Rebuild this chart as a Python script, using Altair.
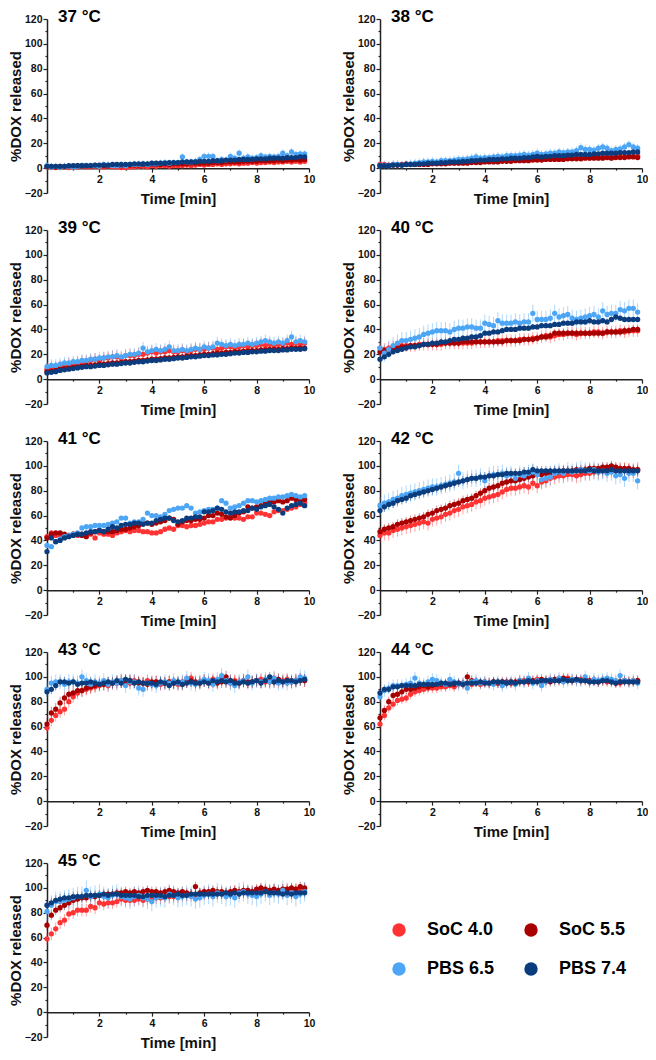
import pandas as pd
import altair as alt


# ── Data (one reading every 10 s) ─────────────────────────────────────────────

TIME_MIN = [k / 6 for k in range(60)]

SERIES = ['SoC 4.0', 'SoC 5.5', 'PBS 6.5', 'PBS 7.4']
COLORS = ['#ff3333', '#a80000', '#4da6f5', '#0b3d7e']
TEMPS = ['37 °C', '38 °C', '39 °C', '40 °C', '41 °C', '42 °C', '43 °C', '44 °C', '45 °C']

SOC40_37 = [1, 1, 0.5, 1, 1, 0.5, 1, 1, 1.5, 1, 1, 1.5, 1, 1, 1.5, 1, 1, 0.5, 0.5, 1,
            1, 1.5, 1.5, 1, 2, 1.5, 2, 2, 1.5, 2, 2, 2, 2.5, 2, 2.5, 3, 2.5, 3, 3, 3.5,
            3, 3.5, 3.5, 4, 3.5, 4, 4, 4.5, 4, 4.5, 4.5, 5, 4.5, 5, 5, 5.5, 5, 5.5, 5, 5.5]
SOC55_37 = [1.5, 1.5, 1, 1.5, 1.5, 1.5, 1.5, 2, 2, 2, 2, 2, 2, 2, 2, 2.5, 2.5, 2, 2.5, 2.5,
            2.5, 2.5, 3, 3, 3, 3, 3, 3.5, 3, 3.5, 3.5, 3.5, 3.5, 4, 4, 4, 4, 4, 4.5, 4.5,
            4.5, 5, 5, 5, 5, 5.5, 5.5, 5.5, 5.5, 6, 6, 6, 6, 6.5, 6, 6.5, 6.5, 7, 6.5, 7]
PBS65_37 = [2, 1, 1.5, 1, 1.5, 1.5, 1, 1.5, 2, 2, 2, 2, 1.5, 3, 2.5, 2, 2, 2.5, 2, 3,
            3, 3, 3.5, 3, 3.5, 3.5, 4, 4.5, 4, 4.5, 4.5, 9, 5, 5, 5.5, 7, 9.5, 9.5, 9.5, 6,
            7, 6.5, 9.5, 8, 12, 8, 9, 8, 8.5, 10, 9, 9.5, 9, 9.5, 12, 10, 13, 11, 11.5, 11.5]
PBS74_37 = [1.5, 1.5, 1.5, 1.5, 1.5, 2, 2, 2, 2, 2, 2, 2.5, 2.5, 2.5, 2.5, 3, 3, 3, 3, 3,
            3.5, 3.5, 3.5, 3.5, 4, 4, 4, 4, 4.5, 4.5, 4.5, 5, 5, 5, 5, 5.5, 5.5, 5.5, 6, 6,
            6, 6.5, 6.5, 6.5, 7, 7, 7, 7, 7.5, 7.5, 7.5, 8, 8, 8, 8, 8.5, 8.5, 8.5, 9, 9]
ERR_37 = [2, 1.5, 3, 1.5]

SOC40_38 = [3, 3, 2.5, 3, 3, 3, 3.5, 3, 3.5, 3.5, 3.5, 4, 4, 4, 4.5, 4, 4.5, 5, 4.5, 5,
            5, 5.5, 5, 5.5, 6, 5.5, 6, 6, 6.5, 6, 6.5, 7, 6.5, 7, 7, 7.5, 7, 7.5, 7.5, 8,
            7.5, 8, 8, 8.5, 8, 8.5, 8.5, 9, 8.5, 9, 9, 9.5, 9, 9.5, 9.5, 10, 9.5, 10, 9.5, 10]
SOC55_38 = [2, 2, 2, 2.5, 2.5, 2.5, 3, 3, 3, 3, 3, 3, 3.5, 3.5, 3.5, 3.5, 4, 4, 4, 4,
            4, 4.5, 4.5, 4.5, 5, 5, 5, 5, 5.5, 5.5, 5.5, 6, 6, 6, 6, 6.5, 6.5, 6.5, 7, 7,
            7, 7, 7, 7.5, 7.5, 7.5, 7.5, 8, 8, 8, 8, 8, 8.5, 8, 8.5, 8.5, 8.5, 9, 9, 8.5]
PBS65_38 = [2, 2.5, 2, 3, 3, 2.5, 3, 3.5, 4, 4.5, 5, 5, 5.5, 5, 6, 6, 6, 6.5, 7, 7,
            7.5, 8, 9, 8, 8.5, 8.5, 9, 9.5, 9, 10, 10, 10, 10.5, 11, 10.5, 11, 12, 11, 11.5, 12,
            12, 13, 12.5, 13, 13, 14, 16.5, 15, 15, 14.5, 16, 17, 16, 14, 15, 15.5, 17, 19, 17, 16]
PBS74_38 = [2, 2, 2, 2.5, 2.5, 2.5, 3, 3, 3, 3.5, 3.5, 4, 4, 4, 4.5, 4.5, 5, 5, 5, 5.5,
            5.5, 6, 6, 6.5, 6.5, 7, 7, 7, 7.5, 7.5, 8, 8, 8, 8.5, 8.5, 9, 9.5, 9, 9.5, 9.5,
            10, 10, 10, 10.5, 10.5, 11, 11, 11, 11, 11.5, 11.5, 12, 12, 12, 12, 12.5, 12.5, 12.5, 13, 13]
ERR_38 = [2, 1.5, 3.5, 1.5]

SOC40_39 = [8, 9, 9, 10, 11, 12, 12, 13, 14, 14, 15, 16, 15, 17, 17, 18, 18, 17, 19, 19,
            19, 20, 20, 21, 22, 21, 22, 22, 23, 22, 22, 23, 22, 23, 24, 24, 24, 25, 25, 24,
            25, 26, 26, 25, 26, 27, 26, 27, 27, 28, 27, 28, 27, 28, 28, 29, 28, 29, 28, 29]
SOC55_39 = [6, 6.5, 7, 8, 8.5, 9, 9.5, 10, 10.5, 11, 11, 11.5, 12, 12, 12.5, 13, 13, 13.5, 14, 14,
            14.5, 15, 15, 15.5, 16, 16, 16.5, 17, 17, 17.5, 18, 18, 18.5, 19, 19, 19.5, 20, 20, 20.5, 21,
            21, 21.5, 21.5, 22, 22, 22.5, 22.5, 23, 23, 23.5, 23.5, 24, 24, 24, 24.5, 24.5, 25, 25, 25, 25]
PBS65_39 = [10, 11, 11, 12, 13, 13, 14, 14, 15, 15, 16, 16, 17, 17, 18, 18, 19, 18, 19, 20,
            20, 21, 25, 22, 23, 24, 23, 24, 26, 23, 23, 24, 23, 24, 25, 24, 26, 25, 26, 29,
            28, 27, 28, 27, 28, 28, 29, 28, 29, 30, 31, 30, 29, 30, 29, 31, 34, 30, 31, 30]
PBS74_39 = [5, 5.5, 6, 7, 7.5, 8, 8.5, 9, 9.5, 10, 10, 10.5, 11, 11, 11.5, 12, 12, 12.5, 13, 13,
            13.5, 14, 14, 14.5, 15, 15, 15.5, 16, 16, 16.5, 17, 17, 17.5, 18, 18, 18.5, 19, 19, 19.5, 19.5,
            20, 20, 20.5, 21, 21, 21.5, 21.5, 22, 22, 22.5, 22.5, 23, 23, 23, 23.5, 23.5, 24, 24, 24, 24.5]
ERR_39 = [5, 2.5, 5, 1.5]

SOC40_40 = [25, 24, 25, 26, 26, 27, 27, 27, 27, 28, 28, 28, 28, 28, 28, 29, 29, 29, 29, 29,
            29, 29, 30, 30, 30, 30, 30, 31, 31, 31, 31, 31, 32, 32, 32, 33, 33, 34, 35, 34,
            35, 36, 36, 37, 37, 36, 37, 37, 37, 38, 38, 37, 38, 38, 38, 39, 38, 39, 39, 39]
SOC55_40 = [22, 23, 24, 25, 25, 26, 26, 27, 27, 27, 28, 28, 28, 28, 29, 29, 29, 29, 29, 30,
            30, 30, 30, 30, 30, 30, 30, 30, 30, 31, 31, 31, 31, 32, 32, 32, 33, 34, 34, 35,
            37, 37, 37, 37, 37, 37, 37, 37, 37, 37, 37, 37, 38, 38, 38, 38, 39, 39, 40, 40]
PBS65_40 = [25, 21, 24, 27, 29, 31, 31, 32, 33, 34, 36, 37, 38, 39, 39, 39, 38, 40, 41, 41,
            42, 42, 41, 41, 45, 44, 43, 47, 45, 45, 45, 46, 45, 46, 46, 53, 48, 48, 48, 49,
            53, 50, 51, 52, 49, 48, 49, 50, 51, 52, 50, 55, 52, 53, 53, 56, 55, 57, 57, 54]
PBS74_40 = [16, 18, 20, 22, 23, 24, 25, 26, 26, 27, 28, 28, 29, 29, 30, 30, 31, 32, 32, 33,
            33, 34, 34, 35, 37, 37, 38, 38, 39, 40, 40, 40, 41, 41, 41, 42, 42, 43, 43, 43,
            44, 44, 45, 45, 45, 46, 46, 46, 47, 46, 46, 47, 46, 48, 50, 49, 48, 48, 48, 48]
ERR_40 = [5, 3, 7, 2]

SOC40_41 = [43, 46, 44, 44, 44, 44, 45, 44, 45, 45, 45, 42, 46, 45, 45, 44, 46, 47, 48, 47,
            48, 48, 47, 47, 46, 46, 47, 49, 50, 49, 52, 52, 51, 52, 52, 53, 54, 55, 55, 57,
            57, 58, 59, 58, 58, 57, 59, 59, 62, 62, 61, 60, 63, 64, 64, 65, 66, 67, 69, 70]
SOC55_41 = [42, 45, 46, 46, 45, 44, 45, 45, 44, 43, 46, 47, 48, 47, 47, 47, 48, 49, 49, 50,
            51, 52, 54, 54, 53, 54, 55, 56, 58, 57, 53, 55, 56, 56, 57, 57, 58, 60, 60, 62,
            61, 59, 58, 60, 62, 63, 67, 66, 67, 68, 70, 71, 71, 72, 71, 72, 74, 73, 72, 73]
PBS65_41 = [36, 35, 39, 41, 43, 44, 45, 46, 50, 51, 51, 52, 52, 52, 53, 54, 55, 58, 58, 54,
            55, 55, 57, 62, 60, 60, 59, 61, 64, 65, 66, 66, 68, 66, 62, 63, 64, 65, 65, 66,
            72, 70, 66, 67, 68, 70, 72, 72, 71, 72, 73, 74, 74, 75, 75, 76, 77, 76, 75, 76]
PBS74_41 = [31, 42, 39, 40, 42, 43, 44, 45, 45, 46, 47, 47, 48, 47, 49, 51, 50, 52, 53, 53,
            54, 54, 53, 54, 54, 56, 57, 58, 58, 56, 55, 56, 58, 58, 59, 59, 63, 63, 64, 66,
            65, 63, 62, 63, 63, 64, 64, 66, 65, 67, 68, 69, 67, 65, 62, 66, 68, 69, 70, 68]
ERR_41 = [1, 1, 1, 1]

SOC40_42 = [44, 46, 46, 48, 49, 50, 51, 52, 53, 54, 55, 54, 57, 58, 59, 61, 62, 64, 65, 67,
            68, 69, 71, 72, 74, 75, 76, 77, 79, 81, 82, 82, 83, 84, 83, 86, 84, 87, 88, 90,
            91, 92, 92, 93, 93, 92, 93, 94, 94, 95, 95, 96, 96, 97, 96, 97, 97, 96, 96, 97]
SOC55_42 = [47, 49, 50, 51, 53, 54, 55, 56, 57, 58, 59, 61, 62, 64, 65, 66, 68, 69, 70, 72,
            73, 74, 76, 78, 80, 82, 83, 84, 86, 87, 88, 88, 89, 90, 91, 92, 93, 93, 94, 94,
            95, 95, 96, 96, 96, 97, 97, 97, 98, 98, 98, 99, 99, 100, 99, 98, 98, 98, 97, 97]
PBS65_42 = [68, 70, 71, 73, 74, 76, 77, 78, 79, 80, 81, 82, 83, 83, 84, 85, 86, 87, 94, 88,
            89, 90, 90, 91, 88, 92, 93, 93, 94, 92, 93, 90, 93, 92, 94, 95, 93, 89, 90, 91,
            94, 95, 94, 96, 95, 96, 97, 96, 96, 97, 95, 96, 94, 95, 92, 93, 90, 94, 94, 88]
PBS74_42 = [64, 67, 69, 70, 72, 73, 74, 76, 77, 78, 79, 80, 81, 82, 83, 84, 85, 86, 87, 88,
            89, 90, 90, 91, 91, 92, 92, 93, 93, 94, 94, 94, 94, 95, 95, 97, 96, 96, 96, 96,
            96, 96, 96, 96, 96, 96, 96, 96, 97, 96, 96, 96, 96, 97, 96, 96, 96, 96, 96, 96]
ERR_42 = [6, 4, 7, 4]

SOC40_43 = [59, 65, 69, 72, 74, 80, 84, 87, 89, 90, 91, 92, 93, 94, 93, 95, 95, 96, 97, 95,
            97, 96, 95, 97, 95, 96, 94, 95, 96, 95, 94, 96, 97, 99, 95, 96, 97, 95, 98, 96,
            99, 96, 95, 97, 96, 97, 95, 96, 97, 98, 96, 97, 99, 96, 97, 98, 96, 97, 98, 97]
SOC55_43 = [62, 71, 74, 79, 83, 86, 87, 89, 89, 91, 92, 93, 94, 94, 95, 95, 96, 97, 96, 97,
            96, 95, 95, 94, 96, 96, 95, 95, 96, 95, 95, 94, 96, 97, 96, 95, 97, 96, 96, 95,
            96, 100, 97, 96, 95, 97, 96, 96, 97, 96, 97, 96, 96, 98, 96, 97, 96, 97, 98, 97]
PBS65_43 = [90, 95, 96, 96, 94, 96, 96, 95, 100, 97, 94, 96, 95, 97, 94, 96, 95, 97, 93, 96,
            96, 91, 90, 95, 94, 93, 95, 96, 95, 97, 95, 96, 99, 95, 94, 96, 98, 97, 94, 98,
            101, 97, 95, 93, 96, 97, 100, 95, 97, 96, 98, 96, 99, 95, 96, 95, 96, 97, 100, 99]
PBS74_43 = [88, 90, 93, 96, 96, 95, 96, 94, 95, 95, 96, 95, 94, 95, 96, 95, 97, 95, 98, 97,
            95, 96, 95, 95, 95, 94, 96, 95, 93, 95, 96, 94, 95, 96, 95, 95, 96, 95, 97, 96,
            97, 96, 97, 95, 95, 96, 95, 96, 97, 95, 97, 100, 96, 97, 96, 97, 97, 96, 97, 98]
ERR_43 = [5, 5, 6, 4]

SOC40_44 = [62, 69, 75, 78, 81, 82, 83, 86, 88, 89, 90, 91, 91, 91, 92, 92, 93, 92, 94, 94,
            95, 94, 96, 94, 95, 95, 96, 95, 94, 95, 96, 95, 96, 97, 96, 97, 98, 96, 97, 98,
            97, 98, 97, 99, 98, 97, 98, 97, 96, 97, 96, 97, 96, 97, 96, 95, 97, 96, 97, 97]
SOC55_44 = [67, 73, 80, 85, 86, 88, 90, 90, 91, 92, 93, 92, 93, 94, 94, 94, 95, 94, 95, 95,
            100, 97, 96, 95, 96, 95, 96, 95, 96, 96, 95, 96, 97, 96, 96, 97, 97, 98, 97, 96,
            98, 97, 99, 98, 97, 98, 97, 98, 97, 97, 96, 97, 97, 96, 95, 96, 97, 96, 96, 97]
PBS65_44 = [84, 89, 91, 93, 93, 93, 94, 95, 99, 95, 94, 96, 98, 97, 95, 94, 98, 96, 94, 95,
            91, 96, 97, 95, 96, 95, 94, 96, 93, 95, 96, 94, 97, 96, 99, 95, 97, 93, 96, 98,
            97, 99, 96, 97, 98, 97, 97, 100, 96, 98, 97, 98, 99, 98, 97, 101, 97, 96, 97, 95]
PBS74_44 = [87, 90, 90, 92, 92, 93, 93, 93, 93, 94, 94, 94, 94, 94, 95, 95, 94, 95, 95, 94,
            95, 95, 95, 96, 95, 95, 96, 96, 96, 95, 96, 95, 96, 96, 97, 96, 96, 97, 97, 97,
            97, 97, 98, 97, 97, 98, 97, 97, 96, 96, 96, 97, 97, 96, 95, 96, 96, 96, 96, 96]
ERR_44 = [4, 4, 5, 3]

SOC40_45 = [59, 63, 67, 72, 74, 79, 80, 82, 82, 82, 85, 84, 88, 87, 88, 88, 89, 91, 90, 90,
            90, 91, 90, 91, 91, 92, 92, 93, 93, 93, 93, 94, 94, 94, 93, 95, 95, 96, 95, 96,
            96, 95, 96, 97, 96, 97, 96, 97, 97, 98, 97, 98, 98, 97, 98, 99, 98, 99, 98, 99]
SOC55_45 = [70, 78, 82, 84, 86, 88, 90, 91, 92, 92, 93, 93, 94, 94, 95, 95, 96, 96, 97, 96,
            97, 96, 97, 98, 97, 97, 96, 97, 98, 97, 96, 97, 96, 95, 101, 96, 97, 97, 98, 97,
            97, 96, 97, 98, 97, 98, 98, 97, 99, 100, 99, 98, 99, 98, 99, 99, 100, 99, 101, 100]
PBS65_45 = [81, 86, 89, 89, 90, 91, 92, 93, 93, 98, 93, 94, 95, 93, 92, 94, 95, 93, 92, 91,
            93, 94, 92, 91, 89, 92, 93, 92, 95, 94, 92, 93, 94, 93, 91, 92, 94, 95, 93, 96,
            95, 93, 94, 92, 96, 97, 95, 94, 93, 95, 97, 94, 96, 95, 98, 94, 96, 93, 95, 97]
PBS74_45 = [86, 88, 90, 91, 92, 92, 93, 93, 93, 94, 94, 94, 94, 95, 94, 95, 95, 94, 94, 94,
            94, 93, 93, 94, 94, 94, 94, 93, 94, 94, 95, 94, 94, 95, 95, 95, 95, 95, 95, 95,
            95, 96, 95, 96, 95, 96, 96, 96, 96, 96, 97, 96, 96, 96, 95, 96, 95, 96, 96, 96]
ERR_45 = [5, 4, 8, 4]

PANELS = {
    '37 °C': ([SOC40_37, SOC55_37, PBS65_37, PBS74_37], ERR_37),
    '38 °C': ([SOC40_38, SOC55_38, PBS65_38, PBS74_38], ERR_38),
    '39 °C': ([SOC40_39, SOC55_39, PBS65_39, PBS74_39], ERR_39),
    '40 °C': ([SOC40_40, SOC55_40, PBS65_40, PBS74_40], ERR_40),
    '41 °C': ([SOC40_41, SOC55_41, PBS65_41, PBS74_41], ERR_41),
    '42 °C': ([SOC40_42, SOC55_42, PBS65_42, PBS74_42], ERR_42),
    '43 °C': ([SOC40_43, SOC55_43, PBS65_43, PBS74_43], ERR_43),
    '44 °C': ([SOC40_44, SOC55_44, PBS65_44, PBS74_44], ERR_44),
    '45 °C': ([SOC40_45, SOC55_45, PBS65_45, PBS74_45], ERR_45),
}


# ── Long table ────────────────────────────────────────────────────────────────

rows = []
for temp in TEMPS:
    values, errs = PANELS[temp]
    for name, vals, err in zip(SERIES, values, errs):
        assert len(vals) == len(TIME_MIN), (temp, name, len(vals))
        for t, v in zip(TIME_MIN, vals):
            rows.append({'temp': temp, 'series': name, 't': t, 'y': v,
                         'lo': v - err, 'hi': v + err})
df = pd.DataFrame(rows)


# ── Chart helpers ─────────────────────────────────────────────────────────────

FONT = 'Liberation Sans'
W, H = 262, 174
X0_OFFSET = -H * 20 / 140   # put the time axis on the y = 0 line

X_SCALE = alt.Scale(domain=[0, 10], nice=False, zero=False)
Y_SCALE = alt.Scale(domain=[-20, 120], nice=False)

X_AXIS = alt.Axis(
    values=list(range(1, 11)),
    labelExpr="datum.value % 2 === 0 ? datum.label : ''",
    tickSize={'condition': {'test': 'datum.value % 2 === 0', 'value': 4}, 'value': 2},
    offset=X0_OFFSET, labelPadding=2, titlePadding=7, labelOverlap=False,
    labelFlush=False,
)
Y_AXIS = alt.Axis(
    values=list(range(-20, 121, 10)),
    labelExpr="datum.value % 20 === 0 ? datum.label : ''",
    tickSize={'condition': {'test': 'datum.value % 20 === 0', 'value': 4}, 'value': 2},
    labelPadding=1, titlePadding=1, labelOverlap=False,
)

COLOR_SCALE = alt.Scale(domain=SERIES, range=COLORS)
LEGEND = alt.Legend(
    title=None, orient='none', legendX=343, legendY=902,
    direction='horizontal', columns=2, symbolType='circle', symbolSize=180,
    symbolStrokeWidth=0, symbolOpacity=1, labelFontSize=18, labelFont=FONT,
    labelFontWeight='bold', labelColor='black', labelOffset=19,
    columnPadding=27, rowPadding=21, padding=0,
)


def panel(temp: str) -> alt.LayerChart:
    base = alt.Chart(df[df['temp'] == temp])
    x = alt.X('t:Q', scale=X_SCALE, axis=X_AXIS, title='Time [min]')
    color = alt.Color('series:N', scale=COLOR_SCALE, sort=SERIES, legend=LEGEND)

    bars = base.mark_rule(strokeWidth=1, opacity=0.45).encode(
        x=x,
        y=alt.Y('lo:Q', scale=Y_SCALE, axis=Y_AXIS, title='%DOX released'),
        y2='hi:Q',
        color=color,
    )
    dots = base.mark_circle(size=28, opacity=1).encode(
        x=x,
        y=alt.Y('y:Q', scale=Y_SCALE, axis=Y_AXIS, title='%DOX released'),
        color=color,
    )
    label = (
        alt.Chart(pd.DataFrame({'label': [temp]}))
        .mark_text(align='left', baseline='alphabetic', font=FONT, fontSize=17,
                   fontWeight='bold', color='black')
        .encode(text='label:N', x=alt.value(11), y=alt.value(3))
    )
    return (bars + dots + label).properties(width=W, height=H)


chart = (
    alt.concat(*[panel(t) for t in TEMPS], columns=2,
               spacing={'row': 12, 'column': 26})
    .resolve_scale(color='shared')
    .properties(padding={'left': 0, 'top': 0, 'right': 0, 'bottom': 0})
    .configure_view(stroke=None)
    .configure_axis(
        grid=False, domainColor='#222', tickColor='#222', domainWidth=1.5,
        tickWidth=1.2, labelFont=FONT, labelFontSize=10.5, labelFontWeight='bold',
        labelColor='#111', titleFont=FONT, titleFontSize=15, titleFontWeight='bold',
        titleColor='#111',
    )
)

chart.save('out.html', embed_options={'renderer': 'svg', 'actions': False})
